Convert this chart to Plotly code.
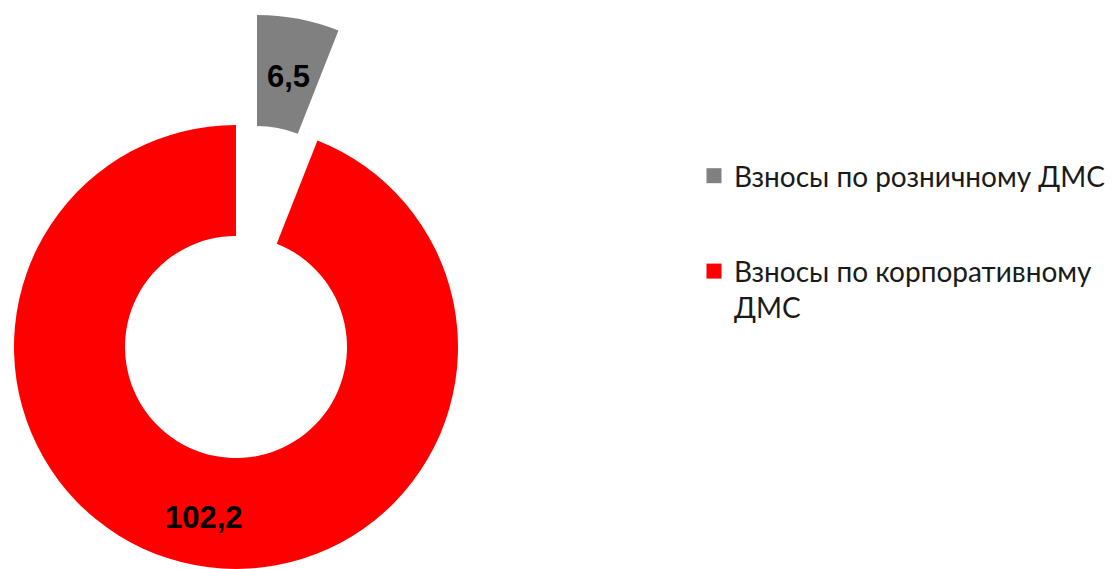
import math
import plotly.graph_objects as go

# Premiums by voluntary medical insurance (ДМС) type
labels = ["Взносы по розничному ДМС", "Взносы по корпоративному<br>ДМС"]
values = [6.5, 102.2]
colors = ["#808080", "#FF0000"]
clear = "rgba(0,0,0,0)"

W, H = 1112, 569
R = 222                      # outer radius, px
cx, cy = 236, 347            # ring centre, px from top-left
shift = (21, -110)           # offset of the detached retail slice, px
centres = [(cx + shift[0], cy + shift[1]), (cx, cy)]


def dom(x0, y0, r):
    return dict(x=[(x0 - r) / W, (x0 + r) / W],
                y=[(H - y0 - r) / H, (H - y0 + r) / H])


common = dict(values=values, labels=labels, hole=0.5, sort=False,
              direction="clockwise", rotation=0, showlegend=False,
              textinfo="none", hoverinfo="label+value")

fig = go.Figure()
# corporate slice stays in the ring
fig.add_trace(go.Pie(**common, domain=dom(*centres[1], R),
                     marker=dict(colors=[clear, colors[1]], line=dict(width=0))))
# retail slice, pulled away from the ring
fig.add_trace(go.Pie(**common, domain=dom(*centres[0], R),
                     marker=dict(colors=[colors[0], clear], line=dict(width=0))))

# value labels on the middle of each slice
total = sum(values)
start = 0.0
for v, (x0, y0) in zip(values, centres):
    mid = (start + v / 2) / total * 2 * math.pi
    start += v
    rr = 0.76 * R
    fig.add_annotation(x=(x0 + rr * math.sin(mid)) / W,
                       y=(H - y0 + rr * math.cos(mid)) / H,
                       xref="paper", yref="paper", showarrow=False,
                       xanchor="center", yanchor="middle", yshift=-5,
                       text=f"{v:.1f}".replace(".", ","),
                       font=dict(family="Liberation Sans", size=31,
                                 color="black", weight="bold"))

# legend entries
for i, (lab, col) in enumerate(zip(labels, colors)):
    fig.add_trace(go.Scatter(x=[None], y=[None], mode="markers", name=lab,
                             legendgroup=f"g{i}",
                             marker=dict(symbol="square", size=15, color=col)))

fig.update_layout(
    width=W, height=H,
    margin=dict(l=0, r=0, t=0, b=0),
    paper_bgcolor="white", plot_bgcolor="white",
    separators=", ",
    xaxis=dict(visible=False), yaxis=dict(visible=False),
    legend=dict(x=694 / W, y=1 - 151 / H, xanchor="left", yanchor="top",
                traceorder="grouped", tracegroupgap=56, valign="top",
                font=dict(family="Lato", size=28, color="#1a1a1a"),
                bgcolor="rgba(0,0,0,0)"),
)

fig.write_html("out.html")
